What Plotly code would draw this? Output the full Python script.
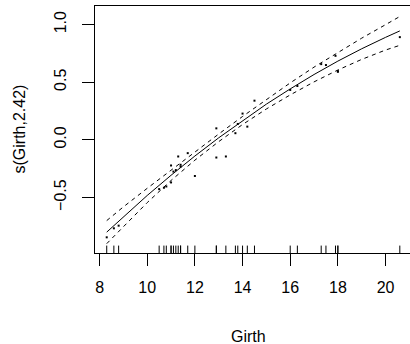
import plotly.graph_objects as go

# Smooth term estimate
grid_x = [8.3, 9, 10, 11, 12, 13, 14, 15, 16, 17, 18, 19, 20, 20.6]
fit_y = [-0.800, -0.666, -0.482, -0.307, -0.140, 0.018, 0.168, 0.310, 0.442, 0.567, 0.683, 0.790, 0.889, 0.945]
band_half = [0.100, 0.085, 0.062, 0.045, 0.036, 0.033, 0.035, 0.042, 0.052, 0.064, 0.077, 0.092, 0.110, 0.125]

# Partial residuals
girth = [8.3, 8.6, 8.8, 10.5, 10.7, 10.8, 11.0, 11.0, 11.1, 11.2, 11.3, 11.4, 11.4, 11.7, 12.0,
         12.9, 12.9, 13.3, 13.7, 13.8, 14.0, 14.2, 14.5, 16.0, 16.3, 17.3, 17.5, 17.9, 18.0, 18.0, 20.6]
resid = [-0.845, -0.767, -0.744, -0.427, -0.415, -0.404, -0.369, -0.222, -0.275, -0.262, -0.144, -0.216, -0.232, -0.115, -0.313,
         0.100, -0.153, -0.144, 0.058, 0.138, 0.228, 0.115, 0.340, 0.433, 0.467, 0.657, 0.649, 0.729, 0.597, 0.590, 0.891]

x_ticks = [8, 10, 12, 14, 16, 18, 20]
y_ticks = [-0.5, 0.0, 0.5, 1.0]

upper = [f + h for f, h in zip(fit_y, band_half)]
lower = [f - h for f, h in zip(fit_y, band_half)]

FONT = "Liberation Sans, Arial, sans-serif"

fig = go.Figure()
fig.add_trace(go.Scatter(x=grid_x, y=fit_y, mode="lines",
                         line=dict(color="black", width=1), showlegend=False))
fig.add_trace(go.Scatter(x=grid_x, y=upper, mode="lines",
                         line=dict(color="black", width=1, dash="4px,4px"), showlegend=False))
fig.add_trace(go.Scatter(x=grid_x, y=lower, mode="lines",
                         line=dict(color="black", width=1, dash="4px,4px"), showlegend=False))
fig.add_trace(go.Scatter(x=girth, y=resid, mode="markers",
                         marker=dict(color="black", size=2, symbol="square", line=dict(width=0)),
                         showlegend=False))

for g in girth:
    fig.add_shape(type="line", xref="x", yref="y domain", x0=g, x1=g, y0=0, y1=0.03,
                  line=dict(color="black", width=1))

fig.update_layout(
    width=410, height=344,
    margin=dict(l=95, r=0, t=6, b=91, autoexpand=False),
    paper_bgcolor="white", plot_bgcolor="white",
    font=dict(family=FONT, size=16, color="black"),
    xaxis=dict(range=[7.808, 21.027], tickvals=x_ticks, ticktext=[str(v) for v in x_ticks],
               showgrid=False, zeroline=False, showline=True, linecolor="black", linewidth=1,
               mirror=True, ticks="outside", ticklen=12, tickcolor="black", tickwidth=1,
               ticklabelstandoff=8, automargin=False),
    yaxis=dict(range=[-0.981, 1.161], tickvals=y_ticks, ticktext=["\u22120.5", "0.0", "0.5", "1.0"],
               showgrid=False, zeroline=False, showline=True, linecolor="black", linewidth=1,
               ticks="outside", ticklen=12, tickcolor="black", tickwidth=1, tickangle=-90,
               ticklabelstandoff=10, automargin=False),
    annotations=[
        dict(text="Girth", xref="paper", yref="paper", x=(248 - 95) / 315, y=-(336 - 253) / 247,
             xanchor="center", yanchor="middle", showarrow=False, font=dict(size=16)),
        dict(text="s(Girth,2.42)", xref="paper", yref="paper", x=(19 - 95) / 315, y=0.5,
             xanchor="center", yanchor="middle", textangle=-90, showarrow=False, font=dict(size=16)),
    ],
)

fig.write_html("out.html", config={"displayModeBar": False},
               post_script="document.body.style.margin='0px';document.body.style.overflow='hidden';")
